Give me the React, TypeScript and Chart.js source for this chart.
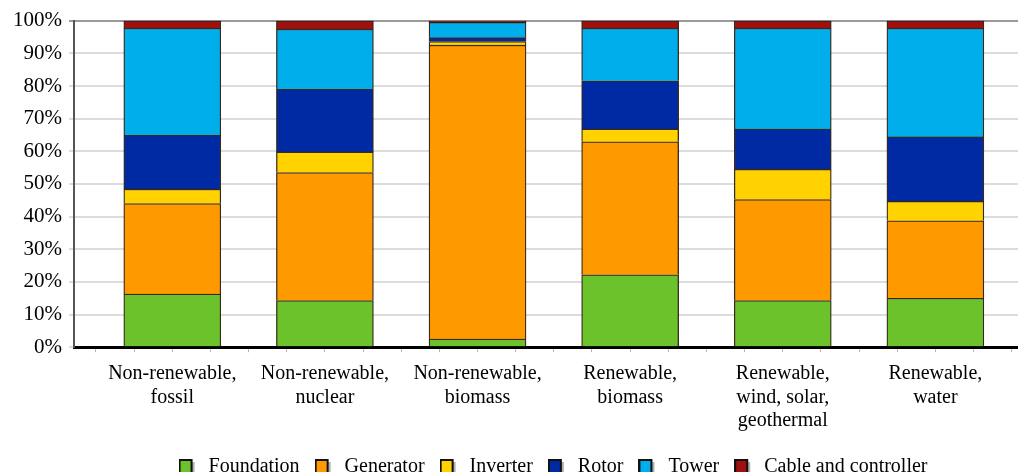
import React, { useEffect, useRef } from "react";
import { Chart, registerables } from "chart.js";

Chart.register(...registerables);

const categories: string[][] = [
  ["Non-renewable,", "fossil"],
  ["Non-renewable,", "nuclear"],
  ["Non-renewable,", "biomass"],
  ["Renewable,", "biomass"],
  ["Renewable,", "wind, solar,", "geothermal"],
  ["Renewable,", "water"],
];

const seriesNames = ["Foundation", "Generator", "Inverter", "Rotor", "Tower", "Cable and controller"];
const foundation = [16.3, 14.3, 2.5, 22.2, 14.3, 15.0];
const generator = [27.7, 39.2, 90.0, 40.7, 30.9, 23.7];
const inverter = [4.4, 6.3, 1.1, 3.9, 9.3, 6.0];
const rotor = [16.5, 19.2, 1.2, 14.8, 12.3, 19.7];
const tower = [32.8, 18.4, 4.7, 16.1, 30.9, 33.3];
const cable = [2.3, 2.6, 0.5, 2.3, 2.3, 2.3];
const seriesValues = [foundation, generator, inverter, rotor, tower, cable];
const seriesColors = ["#6cc22b", "#ff9900", "#ffd200", "#002aa3", "#00aeec", "#a01010"];
const yTicks = [0, 10, 20, 30, 40, 50, 60, 70, 80, 90, 100];

const FONT = "'Liberation Serif', 'Times New Roman', serif";
const X_MIN = -0.644;
const X_MAX = 6.049;

function legendSwatch(color: string): HTMLCanvasElement {
  const c = document.createElement("canvas");
  c.width = 20;
  c.height = 16;
  const g = c.getContext("2d")!;
  g.fillStyle = "#b0b0b0";
  g.fillRect(3, 3, 13, 13);
  g.fillStyle = color;
  g.fillRect(1, 1, 12, 13);
  g.strokeStyle = "#111";
  g.lineWidth = 2;
  g.strokeRect(1, 1, 12, 13);
  return c;
}

export default function App() {
  const ref = useRef<HTMLCanvasElement | null>(null);

  useEffect(() => {
    if (!ref.current) return;
    const swatches = seriesColors.map(legendSwatch);
    const chart = new Chart(ref.current, {
      type: "bar",
      data: {
        datasets: seriesNames.map((name, s) => ({
          label: name,
          data: seriesValues[s].map((v, i) => ({ x: i, y: v })),
          backgroundColor: seriesColors[s],
          borderColor: "rgba(45,30,15,0.95)",
          borderWidth: 1.3,
          barThickness: 97,
        })),
      },
      options: {
        animation: false,
        responsive: true,
        maintainAspectRatio: false,
        layout: { padding: { top: 0, left: 0, right: 0, bottom: 0 } },
        plugins: {
          tooltip: { enabled: false },
          legend: {
            position: "bottom",
            labels: {
              font: { family: FONT, size: 20 },
              color: "#000",
              usePointStyle: true,
              boxWidth: 20,
              boxHeight: 16,
              padding: 15,
              generateLabels: (c: any) =>
                c.data.datasets.map((d: any, i: number) => ({
                  text: d.label,
                  fillStyle: d.backgroundColor,
                  strokeStyle: "#111",
                  lineWidth: 0,
                  pointStyle: swatches[i],
                  hidden: false,
                  datasetIndex: i,
                  fontColor: "#000",
                })),
            },
          },
        },
        scales: {
          x: {
            type: "linear",
            stacked: true,
            offset: false,
            bounds: "data",
            min: X_MIN,
            max: X_MAX,
            afterBuildTicks: (s: any) => {
              const t: any[] = [];
              for (let k = -2; k <= 24; k++) t.push({ value: k / 4 });
              s.ticks = t;
            },
            afterDataLimits: (s: any) => {
              s.min = X_MIN;
              s.max = X_MAX;
            },
            afterFit: (s: any) => {
              s.height -= 1;
            },
            ticks: {
              autoSkip: false,
              maxRotation: 0,
              minRotation: 0,
              padding: 10,
              color: "#000",
              font: { family: FONT, size: 20, lineHeight: 1.18 },
              callback: (v: any) => {
                const n = Number(v);
                return Number.isInteger(n) && n >= 0 && n < categories.length ? categories[n] : "";
              },
            },
            grid: { offset: false, drawOnChartArea: false, tickLength: 5, color: "#b8b8b8", lineWidth: 1 },
            border: { color: "#000", width: 3 },
          },
          y: {
            stacked: true,
            min: 0,
            max: 100,
            afterBuildTicks: (s: any) => {
              s.ticks = yTicks.map((v) => ({ value: v }));
            },
            afterFit: (s: any) => {
              s.width = 66;
              s.paddingTop = 12.7;
            },
            ticks: {
              padding: 7,
              color: "#000",
              font: { family: FONT, size: 21 },
              callback: (v: any) => v + "%",
            },
            grid: {
              drawTicks: true,
              tickLength: 5,
              lineWidth: 2,
              color: (ctx: any) => (ctx.tick && ctx.tick.value === 100 ? "#9a9a9a" : "#dcdcdc"),
            },
            border: { color: "#555", width: 2 },
          },
        },
      },
    });
    return () => chart.destroy();
  }, []);

  return (
    <div style={{ width: 1018, height: 464, overflow: "hidden" }}>
      <div style={{ width: 1090, height: 479, position: "relative" }}>
        <canvas ref={ref} />
      </div>
    </div>
  );
}
